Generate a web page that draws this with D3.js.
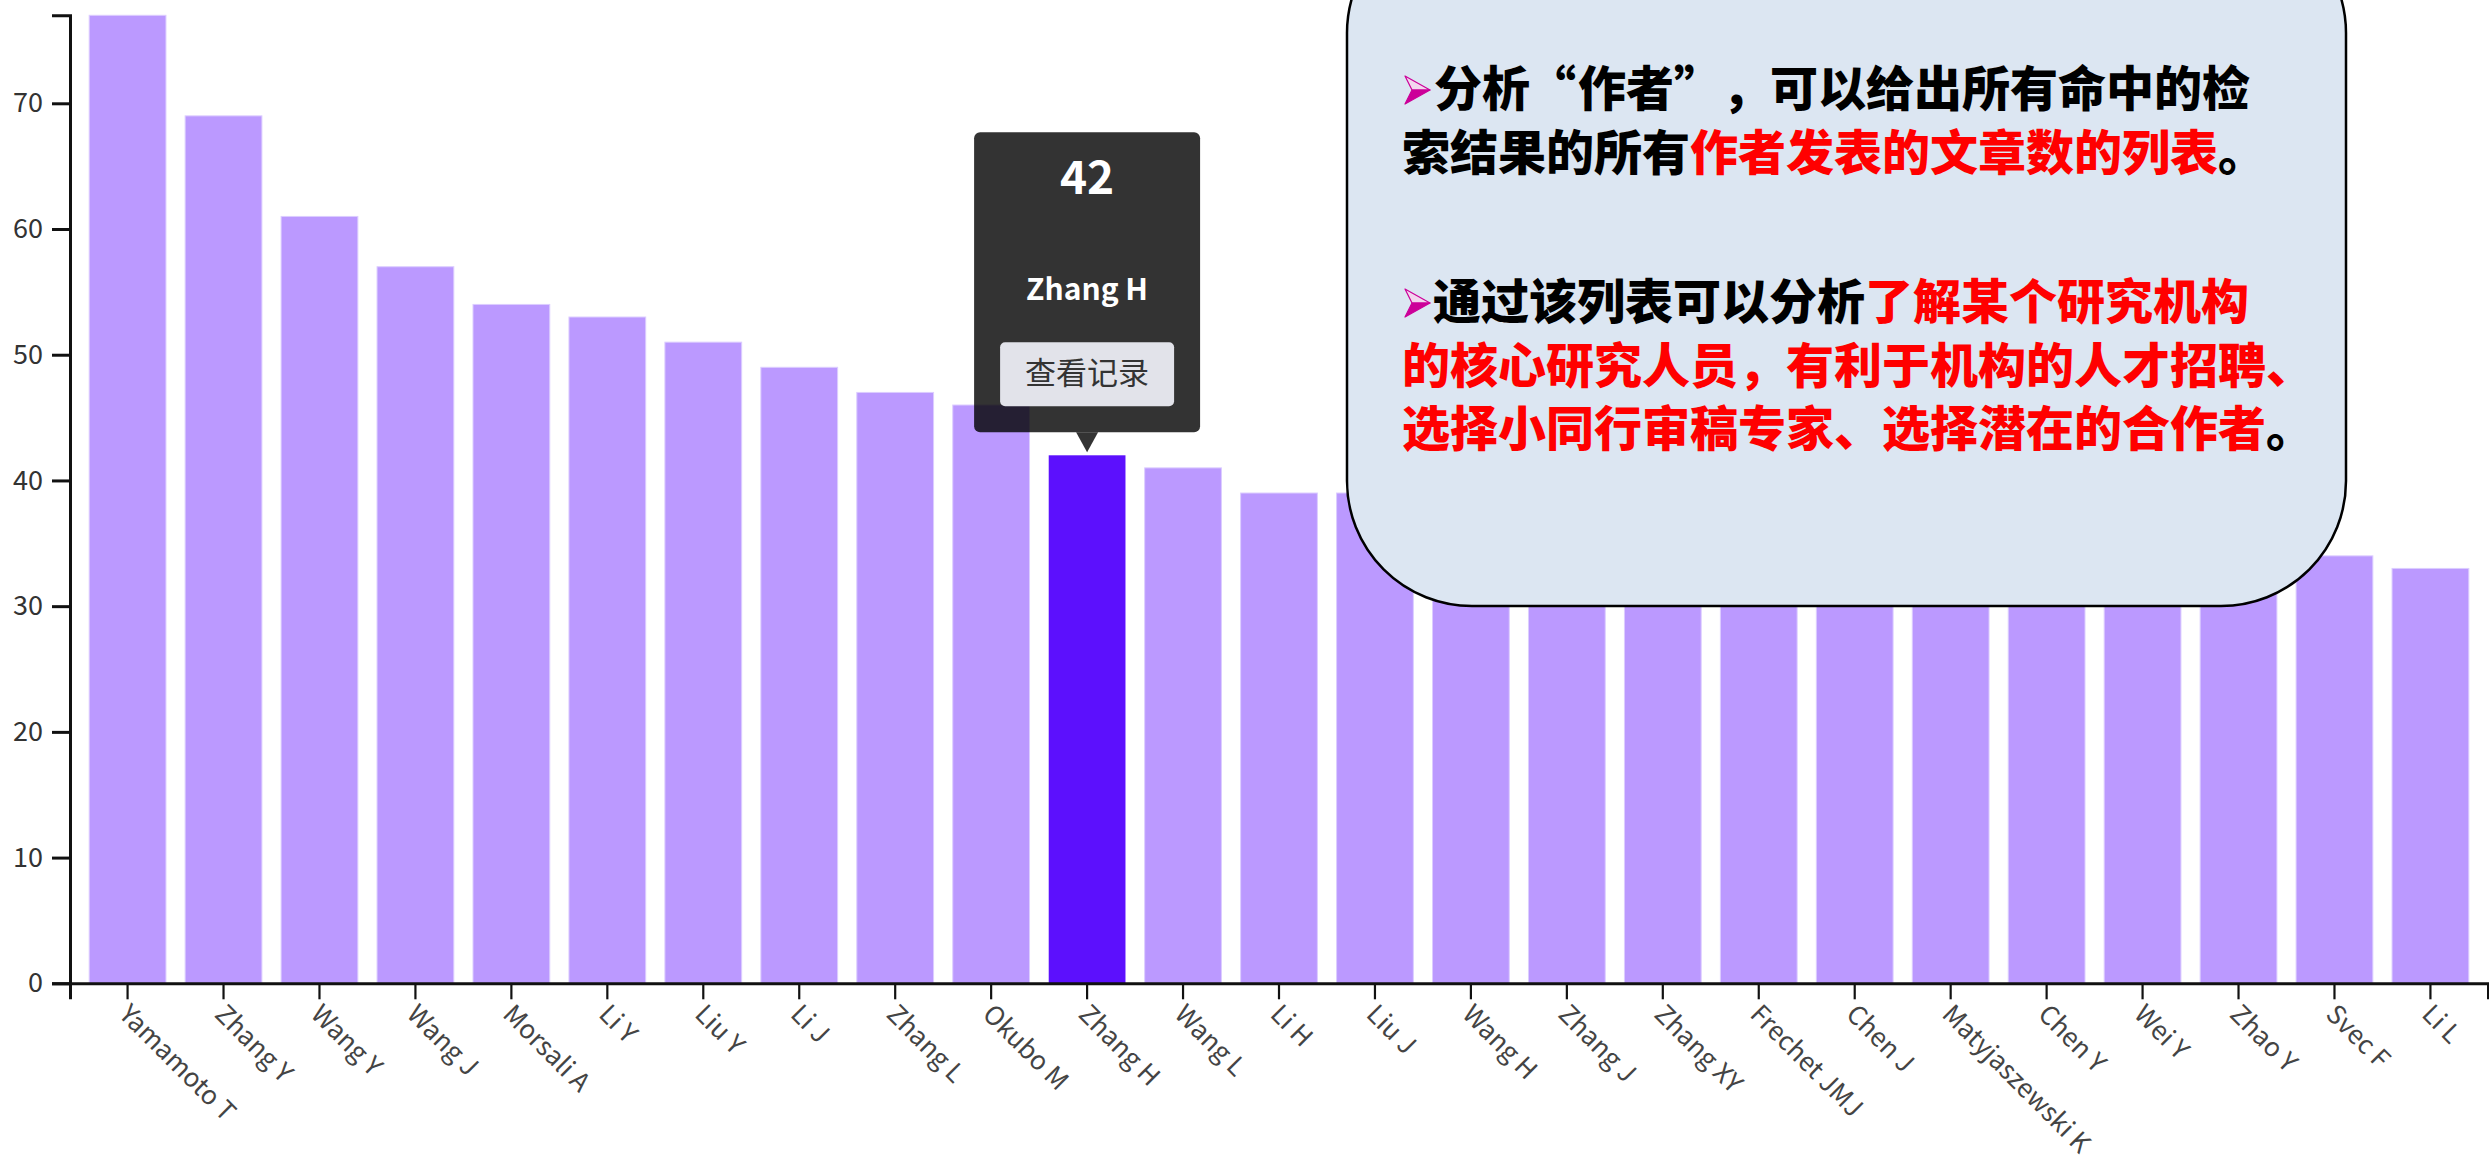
<!DOCTYPE html>
<html>
<head>
<meta charset="utf-8">
<script src="https://cdn.jsdelivr.net/npm/d3@7"></script>
<style>
  html, body { margin: 0; padding: 0; background: #ffffff; }
  svg { display: block; }
</style>
</head>
<body>
<svg id="chart" width="2489" height="1158"></svg>
<script>
// ---------------- data ----------------
const authors = ["Yamamoto T","Zhang Y","Wang Y","Wang J","Morsali A","Li Y","Liu Y","Li J","Zhang L","Okubo M",
  "Zhang H","Wang L","Li H","Liu J","Wang H","Zhang J","Zhang XY","Frechet JMJ","Chen J","Matyjaszewski K",
  "Chen Y","Wei Y","Zhao Y","Svec F","Li L"];
const counts = [77,69,61,57,54,53,51,49,47,46,42,41,39,39,38,37,37,36,36,35,35,35,35,34,33];
const yTicks = [0,10,20,30,40,50,60,70];
const selectedAuthor = "Zhang H";
const buttonLabel = "查看记录";

const para1 = [
  [{t:"分析“作者”，可以给出所有命中的检", c:"#000"}],
  [{t:"索结果的所有", c:"#000"}, {t:"作者发表的文章数的列表", c:"#ff0000"}, {t:"。", c:"#000"}]
];
const para2 = [
  [{t:"通过该列表可以分析", c:"#000"}, {t:"了解某个研究机构", c:"#ff0000"}],
  [{t:"的核心研究人员，有利于机构的人才招聘、", c:"#ff0000"}],
  [{t:"选择小同行审稿专家、选择潜在的合作者", c:"#ff0000"}, {t:"。", c:"#000"}]
];

// ---------------- chart ----------------
const svg = d3.select("#chart");
const FONT = "'Noto Sans CJK SC', 'Noto Sans', sans-serif";

const x = d3.scaleBand().domain(authors).range([70, 2488]).paddingInner(0.2).paddingOuter(0.2);
const y = d3.scaleLinear().domain([0, d3.max(counts)]).range([983.3, 15.3]);

const data = authors.map((a, i) => ({ name: a, value: counts[i] }));

// bars
svg.append("g").selectAll("rect").data(data).join("rect")
  .attr("x", d => x(d.name))
  .attr("y", d => y(d.value))
  .attr("width", x.bandwidth())
  .attr("height", d => y(0) - y(d.value))
  .attr("fill", d => d.name === selectedAuthor ? "#5c10fd" : "#bb99ff")
  .attr("stroke", d => d.name === selectedAuthor ? "none" : "#dccdff")
  .attr("stroke-width", 1);

// y axis
const yAxis = svg.append("g").attr("transform", "translate(70,0)")
  .call(d3.axisLeft(y).tickValues(yTicks).tickSize(18).tickPadding(9));
yAxis.select(".domain").attr("stroke", "#111").attr("stroke-width", 3);
yAxis.selectAll(".tick line").attr("stroke", "#111").attr("stroke-width", 3);
yAxis.selectAll(".tick text").attr("fill", "#333").style("font-family", FONT).style("font-size", "27px");

// x axis
const xAxis = svg.append("g").attr("transform", `translate(0,${y(0)})`)
  .call(d3.axisBottom(x).tickSize(16).tickSizeOuter(16));
xAxis.select(".domain").attr("stroke", "#111").attr("stroke-width", 3);
xAxis.selectAll(".tick line").attr("stroke", "#111").attr("stroke-width", 2.2);
xAxis.selectAll(".tick text")
  .attr("fill", "#444")
  .style("font-family", FONT)
  .style("font-size", "26px")
  .style("text-anchor", "start")
  .attr("x", 16).attr("y", 30).attr("dy", 0)
  .attr("transform", "rotate(45)");

// tooltip
const selIdx = authors.indexOf(selectedAuthor);
const cx = x(selectedAuthor) + x.bandwidth() / 2;
const barTop = y(counts[selIdx]);
const tipBottom = barTop - 23;
const tipTop = tipBottom - 300;
const tip = svg.append("g");
tip.append("rect")
  .attr("x", cx - 113).attr("y", tipTop).attr("width", 226).attr("height", 300)
  .attr("rx", 6).attr("fill", "rgba(0,0,0,0.8)");
tip.append("path")
  .attr("d", `M${cx - 11},${tipBottom} L${cx + 11},${tipBottom} L${cx},${barTop - 3} Z`)
  .attr("fill", "rgba(0,0,0,0.8)");
tip.append("text")
  .attr("x", cx).attr("y", tipTop + 62).attr("text-anchor", "middle")
  .attr("fill", "#fff").style("font-family", FONT).style("font-weight", 700).style("font-size", "46px")
  .text(counts[selIdx]);
tip.append("text")
  .attr("x", cx).attr("y", tipTop + 168).attr("text-anchor", "middle")
  .attr("fill", "#fff").style("font-family", FONT).style("font-weight", 700).style("font-size", "30px")
  .text(selectedAuthor);
tip.append("rect")
  .attr("x", cx - 87).attr("y", tipTop + 210).attr("width", 174).attr("height", 64)
  .attr("rx", 5).attr("fill", "#e2e3ea");
tip.append("text")
  .attr("x", cx).attr("y", tipTop + 252).attr("text-anchor", "middle")
  .attr("fill", "#333").style("font-family", FONT).style("font-size", "31px")
  .text(buttonLabel);

// annotation box
const note = svg.append("g");
note.append("rect")
  .attr("x", 1347).attr("y", -92).attr("width", 999).attr("height", 698)
  .attr("rx", 125).attr("ry", 125)
  .attr("fill", "#dce6f2").attr("stroke", "#000").attr("stroke-width", 2.5);

function bullet(cy) {
  const g = note.append("g");
  g.append("path").attr("d", `M1405,${cy - 14} L1430,${cy} L1412,${cy} Z`)
    .attr("fill", "#f3d6ee").attr("stroke", "#cc0099").attr("stroke-width", 1.2).attr("stroke-linejoin", "round");
  g.append("path").attr("d", `M1412,${cy} L1430,${cy} L1405,${cy + 14} Z`)
    .attr("fill", "#cc0099").attr("stroke", "#cc0099").attr("stroke-width", 1.2).attr("stroke-linejoin", "round");
}

const CELL = 48;
function para(lines, firstBaseline, firstX) {
  lines.forEach((segs, i) => {
    const x0 = i === 0 ? firstX : 1402;
    const yb = firstBaseline + i * 63.5;
    // split into runs so that curly quotes occupy full-width cells
    const runs = [];
    let cell = 0;
    segs.forEach(s => {
      let buf = "", bufCell = cell;
      for (const ch of s.t) {
        if (ch === "“" || ch === "”") {
          if (buf) runs.push({ t: buf, c: s.c, cell: bufCell, anchor: "start" });
          runs.push({ t: ch, c: s.c, cell: cell, anchor: ch === "“" ? "end" : "start" });
          buf = ""; cell += 1; bufCell = cell;
        } else {
          if (!buf) bufCell = cell;
          buf += ch; cell += 1;
        }
      }
      if (buf) runs.push({ t: buf, c: s.c, cell: bufCell, anchor: "start" });
    });
    runs.forEach(r => {
      note.append("text")
        .attr("x", r.anchor === "end" ? x0 + (r.cell + 1) * CELL - 2 : x0 + r.cell * CELL)
        .attr("y", yb)
        .attr("text-anchor", r.anchor)
        .attr("fill", r.c)
        .style("font-family", "'Noto Sans CJK SC', sans-serif")
        .style("font-weight", 900)
        .style("font-size", CELL + "px")
        .text(r.t);
    });
  });
}
bullet(90);
para(para1, 106, 1434);
bullet(303);
para(para2, 319, 1433);
</script>
</body>
</html>
